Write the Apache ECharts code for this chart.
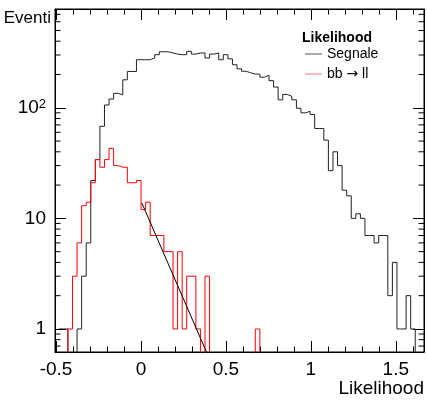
<!DOCTYPE html>
<html>
<head>
<meta charset="utf-8">
<script src="https://cdn.jsdelivr.net/npm/echarts@6/dist/echarts.min.js"></script>
<style>
  html, body { margin: 0; padding: 0; background: #fff; }
  #chart { width: 427px; height: 402px; }
</style>
</head>
<body>
<div id="chart"></div>
<script>
// histogram binning (x of the first bin's left edge, bin width)
const binStart = -0.4838
const binWidth = 0.0269

// counts per bin, black "Segnale"
const segnale = [
  1, 1, 0, 0, 1, 3, 6, 22, 34, 68,
  106, 120, 135, 131, 179, 213, 213, 272, 272, 272,
  282, 302, 321, 321, 313, 306, 302, 302, 324, 306,
  313, 313, 282, 306, 313, 272, 302, 277, 245, 225,
  214, 207, 202, 201, 189, 197, 176, 154, 118, 132,
  127, 118, 99, 90, 93, 87, 65, 65, 51, 27,
  40, 30, 18, 16, 10, 11, 10, 7, 7, 6,
  7, 7, 2, 4, 1, 1, 2, 1, 0, 0
]

// counts per bin, red "bb -> ll"
const bbll = [
  0, 0, 1, 3, 6, 13, 14, 21, 34, 29,
  34, 43, 30, 29, 29, 21, 21, 22, 12, 14,
  7, 7, 7, 5, 5, 1, 5, 1, 3, 3,
  1, 0, 3, 0, 0, 0, 0, 0, 0, 0,
  0, 0, 0, 1, 0, 0, 0, 0, 0, 0,
  0, 0, 0, 0, 0, 0, 0, 0, 0, 0,
  0, 0, 0, 0, 0, 0, 0, 0, 0, 0,
  0, 0, 0, 0, 0, 0, 0, 0, 0, 0
]

// exponential fit drawn over the red tail
const fitX = [0.005, 0.4]
const fitY = [13.8, 0.55]

// log minor ticks (2..9 of each decade)
const yMinorTicks = [0.7, 0.8, 0.9, 2, 3, 4, 5, 6, 7, 8, 9, 20, 30, 40, 50, 60, 70, 80, 90, 200, 300, 400, 500, 600, 700]

const xMin = -0.506
const xMax = 1.666
const yMin = 0.619
const yMax = 782
const font = '"Liberation Sans", Arial, Helvetica, sans-serif'

function histPoints (counts) {
  // empty bins go below the frame so the step drops to the bottom
  const pts = counts.map((c, i) => [binStart + i * binWidth, c > 0 ? c : yMin / 2])
  const last = counts[counts.length - 1]
  pts.push([binStart + counts.length * binWidth, last > 0 ? last : yMin / 2])
  return pts
}

function xAxis (pos, labels) {
  return {
    type: 'value',
    position: pos,
    min: xMin,
    max: xMax,
    splitLine: { show: false },
    axisLine: { show: true, onZero: false, lineStyle: { color: '#000', width: 1 } },
    axisTick: { show: true, inside: true, length: 11, lineStyle: { color: '#000' } },
    minorTick: { show: true, splitNumber: 5, length: 5.5, lineStyle: { color: '#000' } },
    axisLabel: {
      show: labels,
      fontFamily: font,
      fontSize: 19,
      color: '#000',
      margin: 8,
      formatter: function (v) {
        const r = Math.round(v * 2) / 2
        if (Math.abs(v - r) > 1e-6) return ''
        return String(r)
      }
    }
  }
}

function yAxis (pos, labels) {
  return {
    type: 'log',
    logBase: 10,
    position: pos,
    min: yMin,
    max: yMax,
    splitLine: { show: false },
    axisLine: { show: true, onZero: false, lineStyle: { color: '#000', width: 1 } },
    axisTick: { show: true, inside: true, length: 11, lineStyle: { color: '#000' } },
    axisLabel: {
      show: labels,
      fontFamily: font,
      fontSize: 19,
      color: '#000',
      margin: 9,
      formatter: function (v) {
        const p = Math.log10(v)
        if (Math.abs(p - Math.round(p)) > 1e-6) return ''
        const e = Math.round(p)
        if (e === 0) return '1'
        if (e === 1) return '10'
        return '{b|10}{s|' + e + '}'
      },
      rich: {
        b: { fontFamily: font, fontSize: 19, color: '#000' },
        s: { fontFamily: font, fontSize: 13, color: '#000', verticalAlign: 'top' }
      }
    }
  }
}

const chart = echarts.init(document.getElementById('chart'))

const xBottom = xAxis('bottom', true)
xBottom.name = 'Likelihood'
xBottom.nameLocation = 'end'
xBottom.nameGap = 0
xBottom.nameTextStyle = { fontFamily: font, fontSize: 19, color: '#000', align: 'right', verticalAlign: 'top', padding: [27, 0, 0, 0] }

const yLeft = yAxis('left', true)
yLeft.name = 'Eventi'
yLeft.nameLocation = 'end'
yLeft.nameGap = -9
yLeft.nameTextStyle = { fontFamily: font, fontSize: 17, color: '#000', align: 'right', verticalAlign: 'middle', padding: [0, 4, 0, 0] }

const option = {
  backgroundColor: '#fff',
  animation: false,
  grid: { left: 55, right: 1, top: 9, bottom: 50, show: true, borderColor: '#000', borderWidth: 1 },
  title: {
    text: 'Likelihood',
    left: 302,
    top: 31,
    padding: 0,
    textStyle: { fontFamily: font, fontSize: 14, fontWeight: 'bold', color: '#000' }
  },
  legend: {
    data: ['Segnale', 'bb → ll'],
    orient: 'vertical',
    left: 305,
    top: 47,
    padding: 0,
    icon: 'rect',
    itemWidth: 17,
    itemHeight: 1,
    itemGap: 6,
    formatter: function (name) {
      if (name === 'bb → ll') return '{t|bb }{r|→}{t| ll}'
      return '{t|' + name + '}'
    },
    textStyle: {
      fontFamily: font,
      fontSize: 14,
      color: '#000',
      rich: {
        t: { fontFamily: font, fontSize: 14, color: '#000' },
        r: { fontFamily: '"DejaVu Sans", sans-serif', fontSize: 14, color: '#000' }
      }
    }
  },
  xAxis: [xBottom, xAxis('top', false)],
  yAxis: [yLeft, yAxis('right', false)],
  series: [
    {
      name: 'Segnale',
      type: 'line',
      step: 'end',
      data: histPoints(segnale),
      symbol: 'none',
      color: '#555',
      lineStyle: { color: '#222', width: 1 },
      xAxisIndex: 0,
      yAxisIndex: 0
    },
    {
      name: 'bb → ll',
      type: 'line',
      step: 'end',
      data: histPoints(bbll),
      symbol: 'none',
      color: '#ff7070',
      lineStyle: { color: '#ff0000', width: 1 },
      xAxisIndex: 0,
      yAxisIndex: 0
    },
    {
      name: 'fit',
      type: 'line',
      data: fitX.map((x, i) => [x, fitY[i]]),
      symbol: 'none',
      lineStyle: { color: '#000', width: 1 },
      xAxisIndex: 0,
      yAxisIndex: 0
    },
    {
      name: 'minor ticks',
      type: 'custom',
      silent: true,
      xAxisIndex: 0,
      yAxisIndex: 0,
      data: yMinorTicks.map(v => [xMin, v]),
      encode: { x: 0, y: 1 },
      renderItem: function (params, api) {
        const l = api.coord([xMin, api.value(1)])
        const r = api.coord([xMax, api.value(1)])
        const st = { stroke: '#000', lineWidth: 1 }
        return {
          type: 'group',
          children: [
            { type: 'line', shape: { x1: l[0], y1: l[1], x2: l[0] + 5.5, y2: l[1] }, style: st },
            { type: 'line', shape: { x1: r[0] - 5.5, y1: r[1], x2: r[0], y2: r[1] }, style: st }
          ]
        }
      }
    }
  ]
}

chart.setOption(option)
</script>
</body>
</html>
